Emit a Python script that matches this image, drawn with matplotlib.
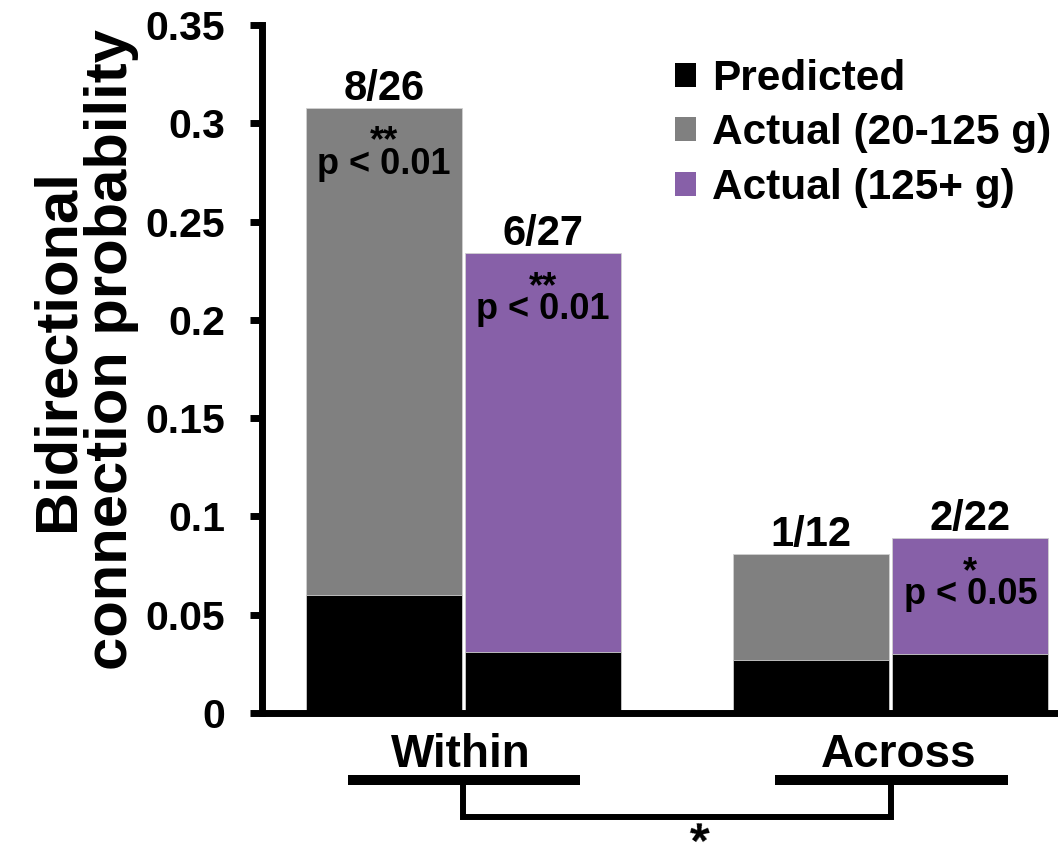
import matplotlib
matplotlib.use("Agg")
import matplotlib.pyplot as plt
from matplotlib.patches import Patch
import matplotlib.transforms as mtransforms
import numpy as np

plt.rcParams['font.family'] = ['Liberation Sans', 'DejaVu Sans']
plt.rcParams['font.weight'] = 'bold'

groups = ["Within", "Across"]
predicted_young = [0.060, 0.027]
predicted_old = [0.031, 0.030]
actual_young = [0.308, 0.081]
actual_old = [0.234, 0.089]
frac_young = ["8/26", "1/12"]
frac_old = ["6/27", "2/22"]
stars_young = ["**", ""]
stars_old = ["**", "*"]
p_young = ["p < 0.01", ""]
p_old = ["p < 0.01", "p < 0.05"]
yticks = [0, 0.05, 0.1, 0.15, 0.2, 0.25, 0.3, 0.35]
yticklabels = ["0", "0.05", "0.1", "0.15", "0.2", "0.25", "0.3", "0.35"]
legend_labels = ["Predicted", "Actual (20-125 g)", "Actual (125+ g)"]
group_star = "*"

GRAY = "#808080"
PURPLE = "#8760A8"

fig = plt.figure(figsize=(10.58, 8.47), dpi=100)
ax = fig.add_axes([262/1058, 1-713/847, 796/1058, 688/847])

x = np.arange(len(groups))
w = 0.365
off = 0.186
xy = x - off
xo = x + off
ec = "#d0d0d0"
ax.bar(xy, actual_young, w, color=GRAY, edgecolor=ec, linewidth=0.6)
ax.bar(xo, actual_old, w, color=PURPLE, edgecolor=ec, linewidth=0.6)
ax.bar(xy, predicted_young, w, color="black", edgecolor=ec, linewidth=0.6)
ax.bar(xo, predicted_old, w, color="black", edgecolor=ec, linewidth=0.6)

def annotate(xs, tops, fracs, stars, ps):
    for xi, t, f, s, p in zip(xs, tops, fracs, stars, ps):
        ax.annotate(f, (xi, t), xytext=(0, 8), textcoords='offset pixels',
                    ha='center', va='baseline', fontsize=30, fontweight='bold')
        if s and p:
            ax.annotate(s + "\n" + p, (xi, t), xytext=(0, -17),
                        textcoords='offset pixels', ha='center', va='top',
                        multialignment='center', linespacing=0.53,
                        fontsize=26, fontweight='bold')

annotate(xy, actual_young, frac_young, stars_young, p_young)
annotate(xo, actual_old, frac_old, stars_old, p_old)

ax.set_ylim(0, 0.35)
ax.set_xlim(-0.471, 1.391)
ax.set_yticks(yticks)
ax.set_yticklabels(yticklabels, fontsize=29.5, fontweight='bold')
ax.set_xticks([])
for s in ['top', 'right']:
    ax.spines[s].set_visible(False)
ax.spines['left'].set_linewidth(5)
ax.spines['bottom'].set_linewidth(5)
ax.tick_params(axis='y', direction='out', length=8.5, width=5, pad=18)

ax.set_ylabel("Bidirectional\nconnection probability", fontsize=43,
              fontweight='bold', linespacing=0.95)
ax.yaxis.set_label_coords(-0.155, 0.528)

trans = mtransforms.blended_transform_factory(ax.transData, ax.transAxes)
label_dx = [-0.006, 0.019]
line_y = -0.0974
bracket_y = -0.151
for xi, g, dx in zip(x, groups, label_dx):
    ax.text(xi + dx, -0.0785, g, transform=trans, ha='center', va='baseline',
            fontsize=33, fontweight='bold', clip_on=False)
    ax.plot([xi - 0.27, xi + 0.273], [line_y, line_y], transform=trans,
            color='black', lw=7.2, solid_capstyle='butt', clip_on=False)
ax.plot([x[0], x[0], x[1], x[1]], [line_y, bracket_y, bracket_y, line_y],
        transform=trans, color='black', lw=4.3, solid_joinstyle='miter',
        clip_on=False)
# five-armed asterisk: rotating by 144 deg keeps its look but lets the glyph
# sit at the bottom of its text box, so it fits above the figure edge
ax.text(0.571, -0.1925, group_star, transform=trans, rotation=144,
        ha='center', va='bottom', fontsize=36, fontweight='bold', clip_on=False)

handles = [Patch(facecolor="black"), Patch(facecolor=GRAY), Patch(facecolor=PURPLE)]
ax.legend(handles, legend_labels, loc='upper left', bbox_to_anchor=(0.519, 0.9506),
          frameon=False, handlelength=0.5, handleheight=0.5,
          handletextpad=0.37, labelspacing=0.34, borderpad=0, borderaxespad=0,
          prop={'weight': 'bold', 'size': 30.5})

fig.savefig("out.png", dpi=100)
